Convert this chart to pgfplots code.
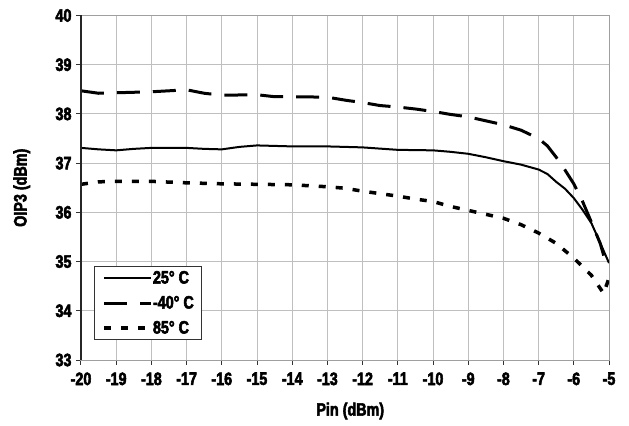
\documentclass[border=0pt]{standalone}
\usepackage{pgfplots}
\pgfplotsset{compat=1.18}
\usepackage{fontspec}
\setmainfont{Liberation Sans Bold}[FakeStretch=0.8, FakeBold=3]

% OIP3 vs input power, three temperatures
\pgfplotstableread{
x y
-20 37.31
-19.5 37.28
-19 37.26
-18.5 37.29
-18 37.31
-17 37.31
-16.5 37.29
-16 37.28
-15.5 37.33
-15 37.36
-14.5 37.35
-14 37.34
-13 37.34
-12 37.32
-11 37.27
-10 37.26
-9.5 37.23
-9 37.19
-8.5 37.12
-8 37.04
-7.5 36.97
-7 36.87
-6.75 36.78
-6.5 36.62
-6.25 36.48
-6 36.29
-5.75 36.05
-5.5 35.78
-5.25 35.38
-5 34.97
}\tfive
\pgfplotstableread{
x y
-20 38.47
-19.5 38.42
-19 38.43
-18 38.45
-17 38.49
-16.5 38.42
-16 38.38
-15 38.39
-14.5 38.35
-14 38.35
-13 38.34
-12.5 38.28
-12 38.23
-11.5 38.17
-11 38.14
-10.5 38.10
-10 38.05
-9.5 37.99
-9 37.94
-8.5 37.86
-8 37.78
-7.5 37.67
-7 37.50
-6.75 37.35
-6.5 37.12
-6.25 36.86
-6 36.58
-5.75 36.22
-5.5 35.80
-5.25 35.37
-5.1 35.0
}\tforty
\pgfplotstableread{
x y
-20 36.57
-19.5 36.62
-19 36.63
-18 36.63
-17 36.60
-16 36.58
-15 36.57
-14 36.56
-13 36.52
-12.5 36.49
-12 36.43
-11 36.33
-10.5 36.27
-10 36.22
-9.5 36.12
-9 36.04
-8.5 35.96
-8 35.88
-7.5 35.75
-7 35.58
-6.5 35.37
-6 35.07
-5.5 34.72
-5.15 34.35
-5 34.67
}\teightyfive

\begin{document}
\begin{tikzpicture}
\begin{axis}[
  name=ax,
  scale only axis,
  width=528bp, height=344.5bp,
  xmin=-20, xmax=-5, ymin=33, ymax=40,
  xtick={-20,-19,...,-5}, ytick={33,34,...,40},
  grid=major,
  grid style={gray!50, line width=0.9bp},
  axis line style={gray!75, line width=1bp},
  tick style={black!80, line width=1bp},
  tick align=outside, major tick length=5bp,
  xtick pos=bottom, ytick pos=left,
  /pgf/number format/assume math mode=true,
  ticklabel style={font=\fontsize{18}{20}\selectfont},
  xticklabel style={yshift=-4bp},
  yticklabel style={xshift=-1bp},
  xlabel={Pin (dBm)}, ylabel={OIP3 (dBm)},
  label style={font=\fontsize{18}{20}\selectfont},
  xlabel style={at={(axis description cs:0.51,-0.148)}, anchor=center},
  ylabel style={at={(axis description cs:-0.112,0.5)}, anchor=center},
  legend style={at={(0.0246,0.2728)}, anchor=north west,
    draw=black!80, line width=1bp,
    font=\fontsize{18}{20}\selectfont,
    inner xsep=8bp, inner ysep=5bp, row sep=12bp,
    nodes={inner xsep=0bp, inner ysep=0bp, text height=12bp, text depth=1bp}},
  legend cell align=left,
  legend image code/.code={\draw[#1] plot coordinates {(0bp,0bp) (47bp,0bp)};},
]
\addplot[black, line width=2bp] table {\tfive};
\addplot[black, line width=3bp, dash pattern=on 23bp off 13bp] table {\tforty};
\addplot[black, line width=3.5bp, dash pattern=on 7bp off 10bp] table {\teightyfive};
\legend{25° C, -40° C, 85° C}
\end{axis}
% darker left axis line
\draw[black!85, line width=1.2bp] (ax.south west) -- (ax.north west);
\pgfresetboundingbox
\path (ax.south west) ++(-81bp,-66bp) rectangle ++(629bp,426bp);
\end{tikzpicture}
\end{document}
